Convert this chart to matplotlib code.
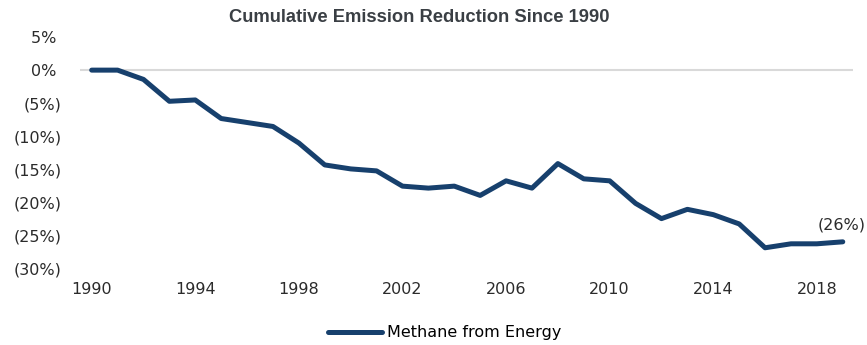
import numpy as np
import matplotlib.pyplot as plt

years = list(range(1990, 2020))
methane = [0.0, 0.0, -1.4, -4.7, -4.5, -7.3, -7.9, -8.5, -11.0, -14.3,
           -14.9, -15.2, -17.5, -17.8, -17.5, -18.9, -16.7, -17.8, -14.1, -16.4,
           -16.7, -20.1, -22.4, -21.0, -21.8, -23.2, -26.8, -26.2, -26.2, -25.9]
yticks = [5, 0, -5, -10, -15, -20, -25, -30]
ytick_labels = ["5% ", "0% ", "(5%)", "(10%)", "(15%)", "(20%)", "(25%)", "(30%)"]
xticks = [1990, 1994, 1998, 2002, 2006, 2010, 2014, 2018]

plt.rcParams['font.family'] = ['DejaVu Sans']

fig = plt.figure(figsize=(8.67, 3.45), dpi=100)
ax = fig.add_axes([0.092, 0.2203, 0.892, 0.6725])

ax.axhline(0, color="#d9d9d9", lw=1.5, zorder=1)
line, = ax.plot(years, methane, color="#17406D", lw=3.6, solid_capstyle="round",
                solid_joinstyle="round", zorder=3, label="Methane from Energy")

ax.set_xlim(1989.54, 2019.4)
ax.set_ylim(-30, 5)
ax.set_yticks(yticks)
ax.set_yticklabels(ytick_labels)
ax.set_xticks(xticks)
for s in ax.spines.values():
    s.set_visible(False)
ax.tick_params(length=0, labelsize=11.5, colors="#2b2b2b")
ax.tick_params(axis="y", pad=13)
ax.tick_params(axis="x", pad=9.5)

ax.annotate("(26%)", (years[-1], methane[-1]), xytext=(-1, 7),
            textcoords="offset points", ha="center", va="bottom",
            fontsize=11.5, color="#2b2b2b")

fig.text(0.484, 0.948, "Cumulative Emission Reduction Since 1990", ha="center",
         va="center", fontsize=13.2, fontweight="bold", color="#3a3f44",
         family="Liberation Sans")

fig.legend(handles=[line], loc="center", bbox_to_anchor=(0.513, 0.035),
           frameon=False, fontsize=11.5, handlelength=3.4, handletextpad=0.3)

fig.savefig("out.png", dpi=100)
